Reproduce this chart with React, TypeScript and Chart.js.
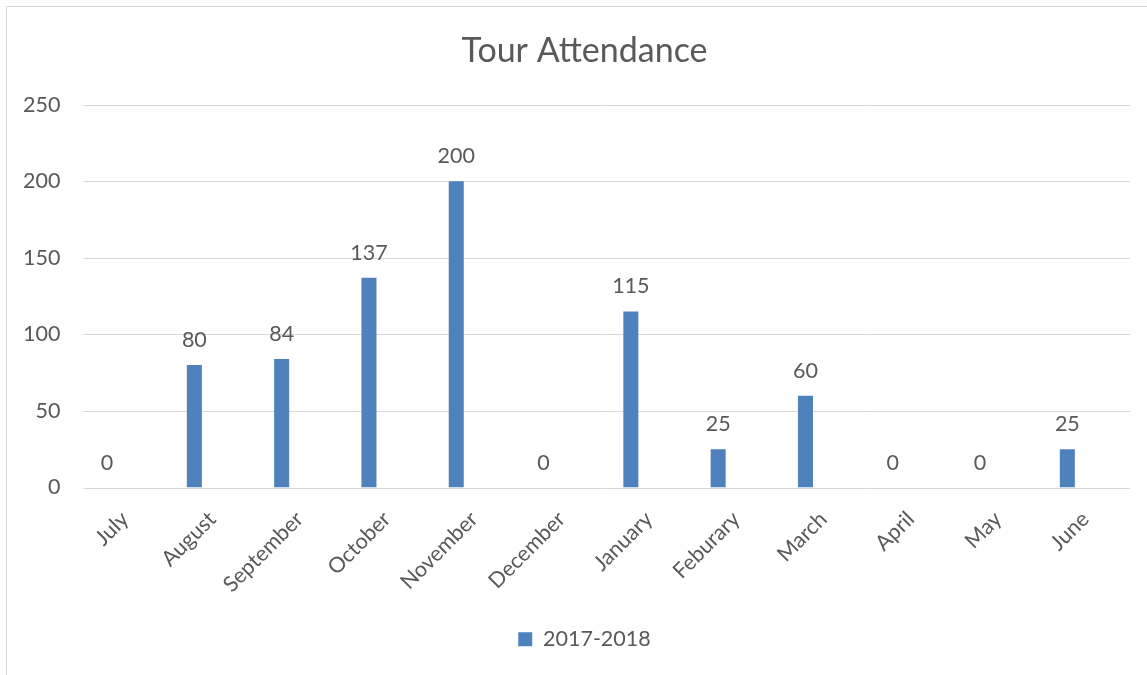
import React, { useEffect, useRef } from "react";
import { Chart, registerables } from "chart.js";

Chart.register(...registerables);

const titleText = "Tour Attendance";
const seriesLabel = "2017-2018";
const categories = [
  "July", "August", "September", "October", "November", "December",
  "January", "Feburary", "March", "April", "May", "June",
];
const attendance = [0, 80, 84, 137, 200, 0, 115, 25, 60, 0, 0, 25];
const yMin = 0;
const yMax = 250;
const yStep = 50;

const FONT = "Lato";
const TEXT = "#595959";
const GRID = "#d9d9d9";
const BAR = "#4f81bd";

const gridPlugin = {
  id: "excelGrid",
  beforeDatasetsDraw(chart: any) {
    const ys = chart.scales.y;
    const ctx = chart.ctx;
    const left = chart.chartArea.left + 20;
    const right = chart.chartArea.right + 19;
    ctx.save();
    ctx.strokeStyle = GRID;
    ctx.lineWidth = 1;
    ys.ticks.forEach((t: any) => {
      const py = Math.round(ys.getPixelForValue(t.value)) + 0.5;
      ctx.beginPath();
      ctx.moveTo(left, py);
      ctx.lineTo(right, py);
      ctx.stroke();
    });
    ctx.restore();
  },
};

const labelPlugin = {
  id: "barValues",
  afterDatasetsDraw(chart: any) {
    const ctx = chart.ctx;
    const meta = chart.getDatasetMeta(0);
    const values = chart.data.datasets[0].data;
    ctx.save();
    ctx.fillStyle = TEXT;
    ctx.font = `21.5px ${FONT}`;
    ctx.textAlign = "center";
    ctx.textBaseline = "alphabetic";
    meta.data.forEach((bar: any, i: number) => {
      ctx.fillText(String(values[i]), bar.x, bar.y - 18);
    });
    ctx.restore();
  },
};

export default function App() {
  const ref = useRef<HTMLCanvasElement | null>(null);

  useEffect(() => {
    if (!ref.current) return;
    const chart = new Chart(ref.current, {
      type: "bar",
      data: {
        labels: categories,
        datasets: [
          {
            label: seriesLabel,
            data: attendance,
            backgroundColor: BAR,
            borderWidth: 0,
            barPercentage: 0.172,
            categoryPercentage: 1,
            yAxisID: "y",
          },
        ],
      },
      options: {
        responsive: false,
        animation: false,
        layout: { padding: { left: 22, right: 0, top: 0, bottom: 15 } },
        plugins: {
          title: {
            display: true,
            text: titleText,
            color: TEXT,
            font: { family: FONT, size: 34, weight: "normal" },
            padding: { top: 31, bottom: 33 },
          },
          legend: {
            display: true,
            position: "bottom",
            labels: {
              color: TEXT,
              font: { family: FONT, size: 21.5 },
              boxWidth: 14,
              boxHeight: 14,
              padding: 10,
            },
          },
          tooltip: { enabled: false },
        },
        scales: {
          x: {
            grid: { display: false, drawTicks: false },
            border: { display: false },
            ticks: {
              color: TEXT,
              font: { family: FONT, size: 21.5 },
              minRotation: 45,
              maxRotation: 45,
              autoSkip: false,
              padding: 19,
              labelOffset: 18,
            },
            afterFit: (s: any) => {
              s.height = 131;
            },
          },
          y: {
            position: "left",
            min: yMin,
            max: yMax,
            grid: { display: false, drawTicks: false },
            border: { display: false },
            ticks: {
              stepSize: yStep,
              color: TEXT,
              font: { family: FONT, size: 21.5 },
              padding: 3,
            },
            afterFit: (s: any) => {
              s.width = 41.4;
            },
          },
          yRight: {
            position: "right",
            display: true,
            grid: { display: false, drawTicks: false },
            border: { display: false },
            ticks: { display: false },
            afterFit: (s: any) => {
              s.width = 36;
            },
          },
        },
      },
      plugins: [gridPlugin, labelPlugin],
    });
    return () => chart.destroy();
  }, []);

  return (
    <div style={{ position: "fixed", left: 0, top: 0, width: 1147, height: 675, overflow: "hidden", background: "#fff" }}>
      <div
        style={{
          position: "absolute",
          left: 6,
          top: 6,
          width: 1300,
          height: 800,
          border: `1px solid ${GRID}`,
        }}
      />
      <canvas ref={ref} width={1147} height={675} style={{ position: "absolute", left: 0, top: 0 }} />
    </div>
  );
}
